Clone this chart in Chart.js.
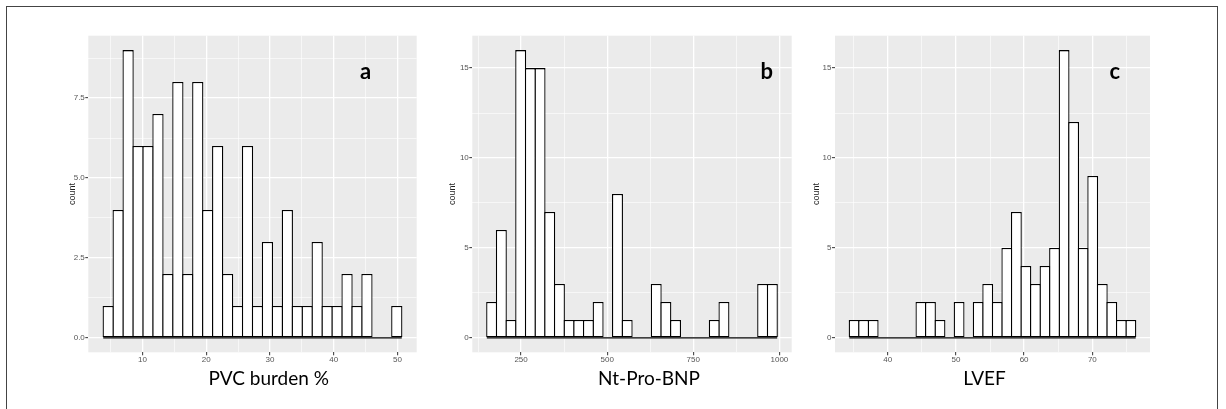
<!DOCTYPE html>
<html>
<head>
<meta charset="utf-8">
<script src="https://cdn.jsdelivr.net/npm/chart.js@4.4.1/dist/chart.umd.min.js"></script>
<style>
  body { margin: 0; background: #fff; }
  #fig { position: relative; width: 1226px; height: 409px; overflow: hidden; }
  #frame { position: absolute; left: 6px; top: 6px; width: 1212px; height: 430px; border: 1.5px solid #444; box-sizing: border-box; }
  canvas { position: absolute; top: 0; }
</style>
</head>
<body>
<div id="fig">
  <div id="frame"></div>
  <canvas id="pvc" width="391" height="409" style="left:38px"></canvas>
  <canvas id="bnp" width="382" height="409" style="left:422px"></canvas>
  <canvas id="lvef" width="377" height="409" style="left:785px"></canvas>
</div>
<script>
// histogram counts, 30 bins each
var pvcCounts = [1, 4, 9, 6, 6, 7, 2, 8, 2, 8, 4, 6, 2, 1, 6, 1, 3, 1, 4, 1, 1, 3, 1, 1, 2, 1, 2, 0, 0, 1];
var pvcBinStart = 3.83, pvcBinWidth = 1.562;
var pvcXTicks = [10, 20, 30, 40, 50], pvcXMinor = [5, 15, 25, 35, 45];
var pvcYTicks = [0, 2.5, 5, 7.5], pvcYMinor = [1.25, 3.75, 6.25, 8.75];

var bnpCounts = [2, 6, 1, 16, 15, 15, 7, 3, 1, 1, 1, 2, 0, 8, 1, 0, 0, 3, 2, 1, 0, 0, 0, 1, 2, 0, 0, 0, 3, 3];
var bnpBinStart = 150.6, bnpBinWidth = 28.1;
var bnpXTicks = [250, 500, 750, 1000], bnpXMinor = [125, 375, 625, 875];
var bnpYTicks = [0, 5, 10, 15], bnpYMinor = [2.5, 7.5, 12.5];

var lvefCounts = [1, 1, 1, 0, 0, 0, 0, 2, 2, 1, 0, 2, 0, 2, 3, 2, 5, 7, 4, 3, 4, 5, 16, 12, 5, 9, 3, 2, 1, 1];
var lvefBinStart = 34.38, lvefBinWidth = 1.399;
var lvefXTicks = [40, 50, 60, 70], lvefXMinor = [35, 45, 55, 65, 75];
var lvefYTicks = [0, 5, 10, 15], lvefYMinor = [2.5, 7.5, 12.5];

// gray panel + letter + x caption
var panelText = {
  id: "panelText",
  beforeDraw: function (chart) {
    var a = chart.chartArea, ctx = chart.ctx;
    ctx.save();
    ctx.fillStyle = "#ebebeb";
    ctx.fillRect(a.left, a.top, a.right - a.left, a.bottom - a.top);
    ctx.restore();
  },
  afterDraw: function (chart, args, opts) {
    var a = chart.chartArea, ctx = chart.ctx;
    ctx.save();
    ctx.fillStyle = "#000";
    ctx.textAlign = "center";
    ctx.textBaseline = "alphabetic";
    ctx.font = "bold 22px Lato";
    ctx.fillText(opts.letter, a.right + opts.letterDx, a.top + 43.6);
    ctx.font = "19px Lato";
    ctx.fillText(opts.caption, (a.left + a.right) / 2 + opts.captionDx, 385);
    ctx.restore();
  }
};

function makehist(can, counts, binStart, binWidth, xTicks, xMinor, yTicks, yMinor, yFmt, geo) {
  var n = counts.length;
  var binEnd = binStart + n * binWidth;
  var pad = (binEnd - binStart) * 0.05;
  var ymax = Math.max.apply(null, counts);
  var bars = counts.map(function (c, i) {
    return { x: binStart + (i + 0.5) * binWidth, y: c };
  });
  var binPx = (geo.right - geo.left) / (binEnd + pad - (binStart - pad)) * binWidth;
  var lw = 1.3;

  function tickSet(major, minor) {
    return function (scale) {
      scale.ticks = major.concat(minor).sort(function (p, q) { return p - q; })
        .map(function (v) { return { value: v }; });
    };
  }
  function gridOpts(major) {
    return {
      color: "#ffffff",
      lineWidth: function (c) { return c.tick && major.indexOf(c.tick.value) >= 0 ? 1.3 : 0.6; },
      tickColor: function (c) { return c.tick && major.indexOf(c.tick.value) >= 0 ? "#333333" : "rgba(0,0,0,0)"; },
      tickWidth: 1,
      tickLength: 3,
      drawTicks: true,
      offset: false
    };
  }

  var ctx = document.getElementById(can).getContext("2d");
  return new Chart(ctx, {
    data: {
      datasets: [
        {
          type: "bar",
          data: bars,
          backgroundColor: "#ffffff",
          borderColor: "#000000",
          borderWidth: lw,
          borderSkipped: false,
          inflateAmount: 0,
          categoryPercentage: 1,
          barPercentage: 1 + lw / binPx,
          order: 2
        },
        {
          // empty bins still show their bottom edge
          type: "line",
          data: [{ x: binStart, y: 0 }, { x: binEnd, y: 0 }],
          borderColor: "#000000",
          borderWidth: lw,
          pointRadius: 0,
          order: 1
        }
      ]
    },
    options: {
      responsive: false,
      animation: false,
      layout: { padding: { top: 35.7, right: geo.padRight, left: 0, bottom: 0 } },
      plugins: {
        legend: { display: false },
        tooltip: { enabled: false },
        panelText: geo.text
      },
      scales: {
        x: {
          type: "linear",
          min: binStart - pad,
          max: binEnd + pad,
          offset: false,
          border: { display: false },
          grid: gridOpts(xTicks),
          afterBuildTicks: tickSet(xTicks, xMinor),
          afterFit: function (s) { s.height = 56.7; },
          ticks: {
            autoSkip: false,
            maxRotation: 0,
            padding: 0,
            color: "#555555",
            font: { family: "Liberation Sans", size: 8 },
            callback: function (v) { return xTicks.indexOf(v) >= 0 ? String(v) : ""; }
          }
        },
        y: {
          type: "linear",
          min: -0.05 * ymax,
          max: ymax * 1.05,
          border: { display: false },
          grid: gridOpts(yTicks),
          afterBuildTicks: tickSet(yTicks, yMinor),
          afterFit: function (s) { s.width = geo.yw; },
          title: {
            display: true,
            text: "count",
            color: "#222222",
            font: { family: "Liberation Sans", size: 9 },
            padding: { top: geo.yTitlePad, bottom: 0 }
          },
          ticks: {
            autoSkip: false,
            padding: 0.5,
            color: "#555555",
            font: { family: "Liberation Sans", size: 8 },
            callback: function (v) { return yTicks.indexOf(v) >= 0 ? yFmt(v) : ""; }
          }
        }
      }
    },
    plugins: [panelText]
  });
}

Chart.defaults.font.family = "Liberation Sans";

var one = function (v) { return v.toFixed(1); };
var whole = function (v) { return String(v); };

makehist("pvc", pvcCounts, pvcBinStart, pvcBinWidth, pvcXTicks, pvcXMinor, pvcYTicks, pvcYMinor, one,
  { left: 88.3, right: 416.7, yw: 50.3, padRight: 391 - 416.7 + 38, yTitlePad: 29.6,
    text: { letter: "a", letterDx: -51, caption: "PVC burden %", captionDx: 16.2 } });
makehist("bnp", bnpCounts, bnpBinStart, bnpBinWidth, bnpXTicks, bnpXMinor, bnpYTicks, bnpYMinor, whole,
  { left: 472.3, right: 791.7, yw: 50.3, padRight: 382 - 791.7 + 422, yTitlePad: 25.6,
    text: { letter: "b", letterDx: -25, caption: "Nt-Pro-BNP", captionDx: 17 } });
makehist("lvef", lvefCounts, lvefBinStart, lvefBinWidth, lvefXTicks, lvefXMinor, lvefYTicks, lvefYMinor, whole,
  { left: 835, right: 1150, yw: 50, padRight: 377 - 1150 + 785, yTitlePad: 26.6,
    text: { letter: "c", letterDx: -35.3, caption: "LVEF", captionDx: -8 } });
</script>
</body>
</html>
